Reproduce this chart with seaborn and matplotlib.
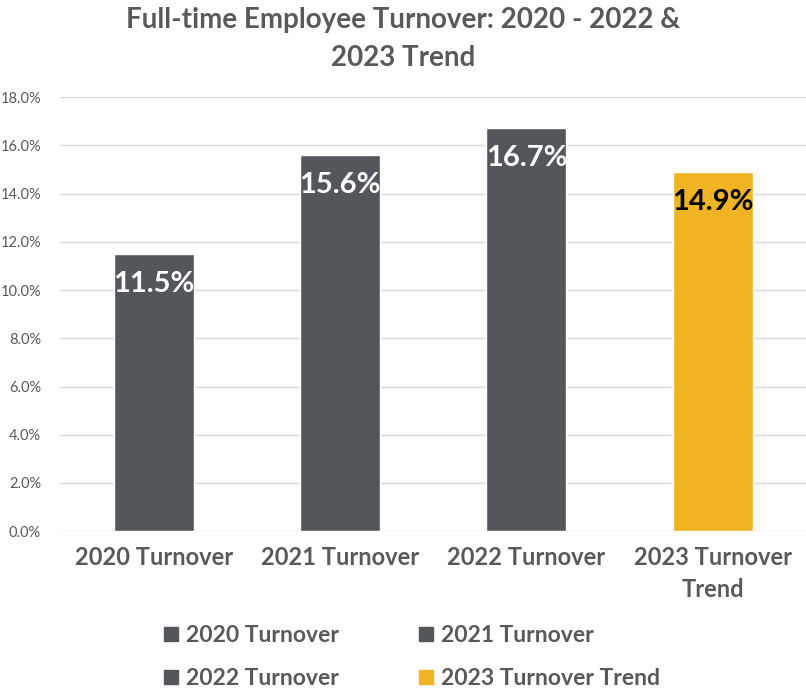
import numpy as np
import pandas as pd
import seaborn as sns
import matplotlib.pyplot as plt
from matplotlib.lines import Line2D
from matplotlib.ticker import FuncFormatter

# Datos
categories = ['2020 Turnover', '2021 Turnover', '2022 Turnover', '2023 Turnover Trend']
tick_labels = ['2020 Turnover', '2021 Turnover', '2022 Turnover', '2023 Turnover\nTrend']
turnover = [0.115, 0.156, 0.167, 0.149]
bar_colors = ['#53565A', '#53565A', '#53565A', '#F0B323']
label_colors = ['white', 'white', 'white', 'black']

sns.set_style('white')
plt.rcParams['font.family'] = ['Lato', 'DejaVu Sans']

df = pd.DataFrame({'categoria': categories, 'valor': turnover})

fig = plt.figure(figsize=(8.06, 6.89), dpi=100)
ax = fig.add_axes([0.075, 0.229, 0.925, 0.63])

sns.barplot(data=df, x='categoria', y='valor', hue='categoria',
            palette=bar_colors, width=0.43, legend=False, ax=ax, saturation=1)

ax.set_ylim(0, 0.18)
ax.set_yticks(np.arange(0, 0.181, 0.02))
ax.yaxis.set_major_formatter(FuncFormatter(lambda v, p: f'{v*100:.1f}%'))
ax.grid(axis='y', color='#D9D9D9', linewidth=1)
ax.set_axisbelow(True)
for s in ax.spines.values():
    s.set_visible(False)
ax.tick_params(axis='y', labelsize=10.5, labelcolor='#595959', length=0, pad=14)
ax.tick_params(axis='x', length=0, pad=11)
ax.set_xticks(range(len(categories)))
ax.set_xticklabels(tick_labels, fontsize=17, fontweight='bold', color='#595959',
                   linespacing=1.45)
ax.set_xlabel('')
ax.set_ylabel('')

# Etiquetas de datos dentro de la barra
for i, v in enumerate(turnover):
    ax.annotate(f'{v*100:.1f}%', (i, v), xytext=(0, -21.5), textcoords='offset points',
                ha='center', va='center', fontsize=21, fontweight='bold',
                color=label_colors[i])

fig.suptitle('Full-time Employee Turnover: 2020 - 2022 &\n2023 Trend', x=0.5, y=0.99,
             fontsize=20, fontweight='bold', color='#595959', linespacing=1.6)

# orden por filas como en el original
order = [0, 2, 1, 3]
handles = [Line2D([0], [0], marker='s', linestyle='', markersize=10,
                  markerfacecolor=bar_colors[k], markeredgecolor=bar_colors[k]) for k in order]
labels = [categories[k] for k in order]
leg = fig.legend(handles, labels, ncol=2, loc='lower left',
                 bbox_to_anchor=(0.175, -0.03), frameon=False,
                 prop={'size': 16.5, 'weight': 'bold'}, handletextpad=0.25,
                 columnspacing=3.4, labelspacing=0.95, handlelength=0.8)
for t in leg.get_texts():
    t.set_color('#595959')

plt.savefig('out.png', dpi=100)
